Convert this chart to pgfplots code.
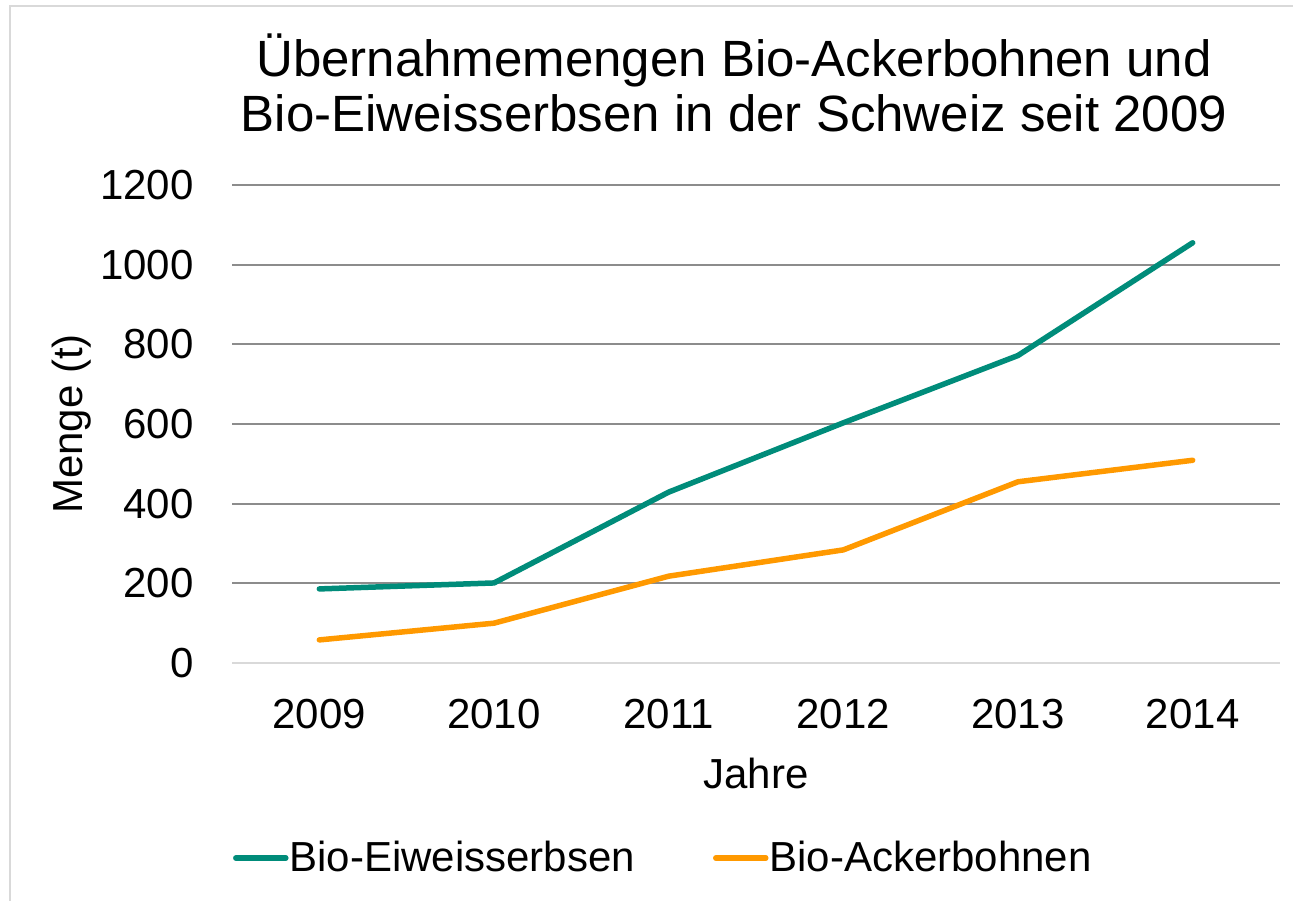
\documentclass[border=0pt]{standalone}
\usepackage{fontspec}
\setmainfont{Liberation Sans}
\usepackage{pgfplots}
\pgfplotsset{compat=1.18}
\definecolor{cgreen}{RGB}{0,140,122}
\definecolor{corange}{RGB}{255,153,0}
\definecolor{cgrid}{RGB}{140,140,140}
\definecolor{caxis}{RGB}{217,217,217}
\definecolor{cframe}{RGB}{217,217,217}
\begin{document}
\begin{tikzpicture}[x=0.5pt,y=-0.5pt]
\useasboundingbox (0,0) rectangle (1293,900);
\draw[cframe, line width=1pt] (10,905) -- (10,6) -- (1300,6);
\node[anchor=base, font=\fontsize{25.5}{30}\selectfont, inner sep=0pt] at (734,76) {Übernahmemengen Bio-Ackerbohnen und};
\node[anchor=base, font=\fontsize{25.5}{30}\selectfont, inner sep=0pt] at (734,131) {Bio-Eiweisserbsen in der Schweiz seit 2009};
\begin{axis}[
  at={(116pt,-331.5pt)}, anchor=south west,
  scale only axis, width=524pt, height=239pt,
  xmin=2008.5, xmax=2014.5, ymin=0, ymax=1200,
  xtick={2009,2010,2011,2012,2013,2014},
  ytick={0,200,400,600,800,1000,1200},
  /pgf/number format/1000 sep={},
  /pgf/number format/assume math mode=true,
  axis x line*=bottom, axis y line*=left,
  x axis line style={draw=caxis, line width=1pt, -},
  y axis line style={draw=none, -},
  major tick length=0pt,
  ymajorgrids, grid style={cgrid, line width=1pt},
  tick label style={font=\fontsize{21}{25}\selectfont},
  xticklabel style={anchor=base, yshift=-32.5pt},
  yticklabel style={anchor=east, inner sep=0pt, xshift=-19pt},
  xlabel={Jahre}, ylabel={Menge (t)},
  label style={font=\fontsize{21}{25}\selectfont},
  xlabel style={at={(axis description cs:0.5,-0.2615)}, anchor=base, inner sep=0pt},
  ylabel style={at={(axis description cs:-0.1422,0.5)}, anchor=base, inner sep=0pt},
  clip=false,
  legend columns=2,
  legend image code/.code={\draw[#1, line cap=round] (0pt,0pt) -- (25pt,0pt);},
  legend style={draw=none, fill=none, inner sep=0pt, outer sep=0pt,
    at={(axis description cs:0.001,-0.408)}, anchor=west,
    font=\fontsize{21}{25}\selectfont,
    nodes={inner sep=0pt},
    /tikz/every odd column/.append style={column sep=0.5pt},
    /tikz/every even column/.append style={column sep=39pt}},
]
\addplot[cgreen, line width=2.75pt, line join=round, line cap=round] coordinates {
 (2009,186) (2010,201) (2011,429) (2012,603) (2013,772) (2014,1055)};
\addlegendentry{Bio-Eiweisserbsen}
\addplot[corange, line width=2.75pt, line join=round, line cap=round] coordinates {
 (2009,58) (2010,100) (2011,218) (2012,284) (2013,455) (2014,509)};
\addlegendentry{Bio-Ackerbohnen}
\end{axis}
\end{tikzpicture}
\end{document}
